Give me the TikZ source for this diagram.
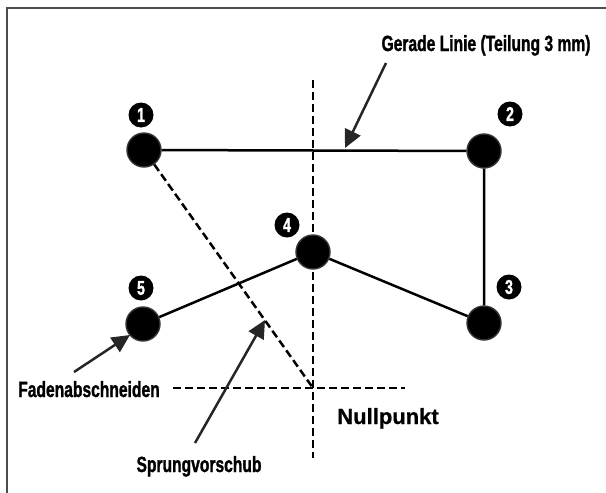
\documentclass[tikz,border=0pt]{standalone}
\usepackage{fontspec}
\setmainfont{Liberation Sans}
\newfontfamily\condfont[FakeStretch=0.71, FakeBold=1.2]{Liberation Sans Bold}
\newfontfamily\headfont[FakeBold=0.8]{Liberation Sans Bold}
\usetikzlibrary{arrows.meta}
\begin{document}
\begin{tikzpicture}[x=1pt, y=-1pt, line width=2.5pt,
    dot/.style={circle, fill=black, draw=black!80, line width=1.4pt, minimum size=34pt, inner sep=0pt},
    badge/.style={circle, fill=black, text=white, inner sep=0pt, minimum size=25pt, font=\condfont\fontsize{20}{20}\selectfont},
    lbl/.style={anchor=base, font=\condfont\fontsize{22}{22}\selectfont},
    guide/.style={dash pattern=on 8pt off 4pt},
    ptr/.style={black!85, -{Triangle[length=18pt, width=17pt]}}]
  \useasboundingbox (0,0) rectangle (606,493);
  \draw[line width=2.6pt, black!70] (7,493) -- (7,8) -- (606,8);
  \coordinate (vtop) at (313,80);
  \coordinate (vbot) at (313,458);
  \coordinate (hl) at (173,388);
  \coordinate (hr) at (405,388);
  \coordinate (o) at (313,388);
  \draw[guide] (vtop) -- (vbot);
  \draw[guide] (hl) -- (hr);
  \node[dot] (p1) at (144,150) {};
  \node[dot] (p2) at (484,151) {};
  \node[dot] (p3) at (484,323) {};
  \node[dot] (p4) at (313,252) {};
  \node[dot] (p5) at (143,324) {};
  \draw (p1) -- (p2) -- (p3) -- (p4) -- (p5);
  \draw[guide] (p1) -- (o);
  \node[badge] (b1) at (141,115) {1};
  \node[badge] (b2) at (510,114) {2};
  \node[badge] (b3) at (509,287) {3};
  \node[badge] (b4) at (287,225) {4};
  \node[badge] (b5) at (141,288) {5};
  \node[lbl] (gl) at (486,51) {Gerade Linie (Teilung 3 mm)};
  \node[lbl] (fa) at (89,397) {Fadenabschneiden};
  \node[lbl] (sv) at (199,472) {Sprungvorschub};
  \node[anchor=base, font=\headfont\fontsize{22}{22}\selectfont] (np) at (388,424) {Nullpunkt};
  \coordinate (glt) at (386,63);
  \coordinate (glh) at (345,148);
  \coordinate (fat) at (74,372);
  \coordinate (fah) at (130,335);
  \coordinate (svt) at (195,443);
  \coordinate (svh) at (265,320);
  \draw[ptr] (glt) -- (glh);
  \draw[ptr] (fat) -- (fah);
  \draw[ptr] (svt) -- (svh);
\end{tikzpicture}
\end{document}
